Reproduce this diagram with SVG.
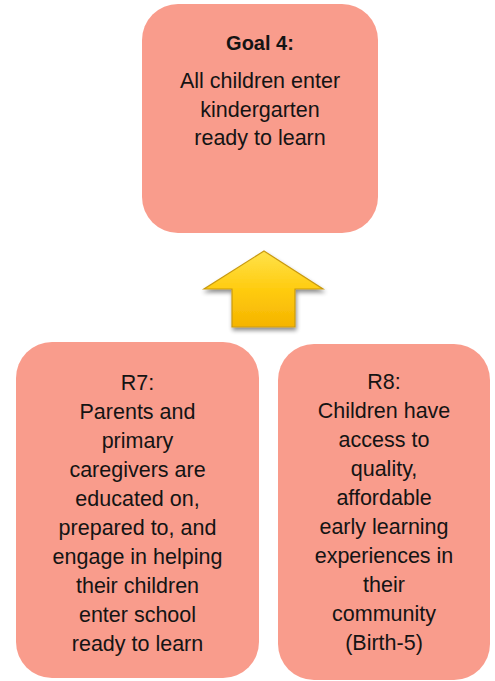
<svg xmlns="http://www.w3.org/2000/svg" width="495" height="681" viewBox="0 0 495 681">
  <style>
    .box { fill: #F99C8C; }
    .t { font-family: "Liberation Sans", Arial, sans-serif; font-size: 21.5px; fill: #141414; text-anchor: middle; }
    .b { font-weight: bold; font-size: 20px; }
  </style>
  <defs>
    <linearGradient id="arrowFill" x1="0" y1="0" x2="0" y2="1">
      <stop offset="0" stop-color="#FFE24A"/>
      <stop offset="0.5" stop-color="#FFCC10"/>
      <stop offset="1" stop-color="#F5B400"/>
    </linearGradient>
    <filter id="shadow" x="-20%" y="-20%" width="140%" height="150%">
      <feGaussianBlur in="SourceAlpha" stdDeviation="2"/>
      <feOffset dx="1" dy="3" result="off"/>
      <feComponentTransfer><feFuncA type="linear" slope="0.45"/></feComponentTransfer>
      <feMerge><feMergeNode/><feMergeNode in="SourceGraphic"/></feMerge>
    </filter>
  </defs>

  <rect width="495" height="681" fill="#FFFFFF"/>

  <g id="goal4">
    <rect class="box" x="142" y="4" width="236" height="229" rx="36" ry="36"/>
    <text class="t b" x="260" y="50">Goal 4:</text>
    <text class="t" x="260" y="88">All children enter</text>
    <text class="t" x="260" y="116.5">kindergarten</text>
    <text class="t" x="260" y="145">ready to learn</text>
  </g>

  <g id="connectors">
    <polygon points="264,251 323,289 295,289 295,327 232,327 232,289 204,289"
             fill="url(#arrowFill)" stroke="#C99A10" stroke-width="1.2" stroke-linejoin="miter" filter="url(#shadow)"/>
  </g>

  <g id="r7">
    <rect class="box" x="16" y="342" width="243" height="336" rx="36" ry="36"/>
    <text class="t" x="137.5" y="390">R7:</text>
    <text class="t" x="137.5" y="419">Parents and</text>
    <text class="t" x="137.5" y="448">primary</text>
    <text class="t" x="137.5" y="477">caregivers are</text>
    <text class="t" x="137.5" y="506">educated on,</text>
    <text class="t" x="137.5" y="535">prepared to, and</text>
    <text class="t" x="137.5" y="564">engage in helping</text>
    <text class="t" x="137.5" y="593">their children</text>
    <text class="t" x="137.5" y="622">enter school</text>
    <text class="t" x="137.5" y="651">ready to learn</text>
  </g>

  <g id="r8">
    <rect class="box" x="278" y="344" width="212" height="336" rx="36" ry="36"/>
    <text class="t" x="384" y="389">R8:</text>
    <text class="t" x="384" y="418">Children have</text>
    <text class="t" x="384" y="447">access to</text>
    <text class="t" x="384" y="476">quality,</text>
    <text class="t" x="384" y="505">affordable</text>
    <text class="t" x="384" y="534">early learning</text>
    <text class="t" x="384" y="563">experiences in</text>
    <text class="t" x="384" y="592">their</text>
    <text class="t" x="384" y="621">community</text>
    <text class="t" x="384" y="650">(Birth-5)</text>
  </g>
</svg>
